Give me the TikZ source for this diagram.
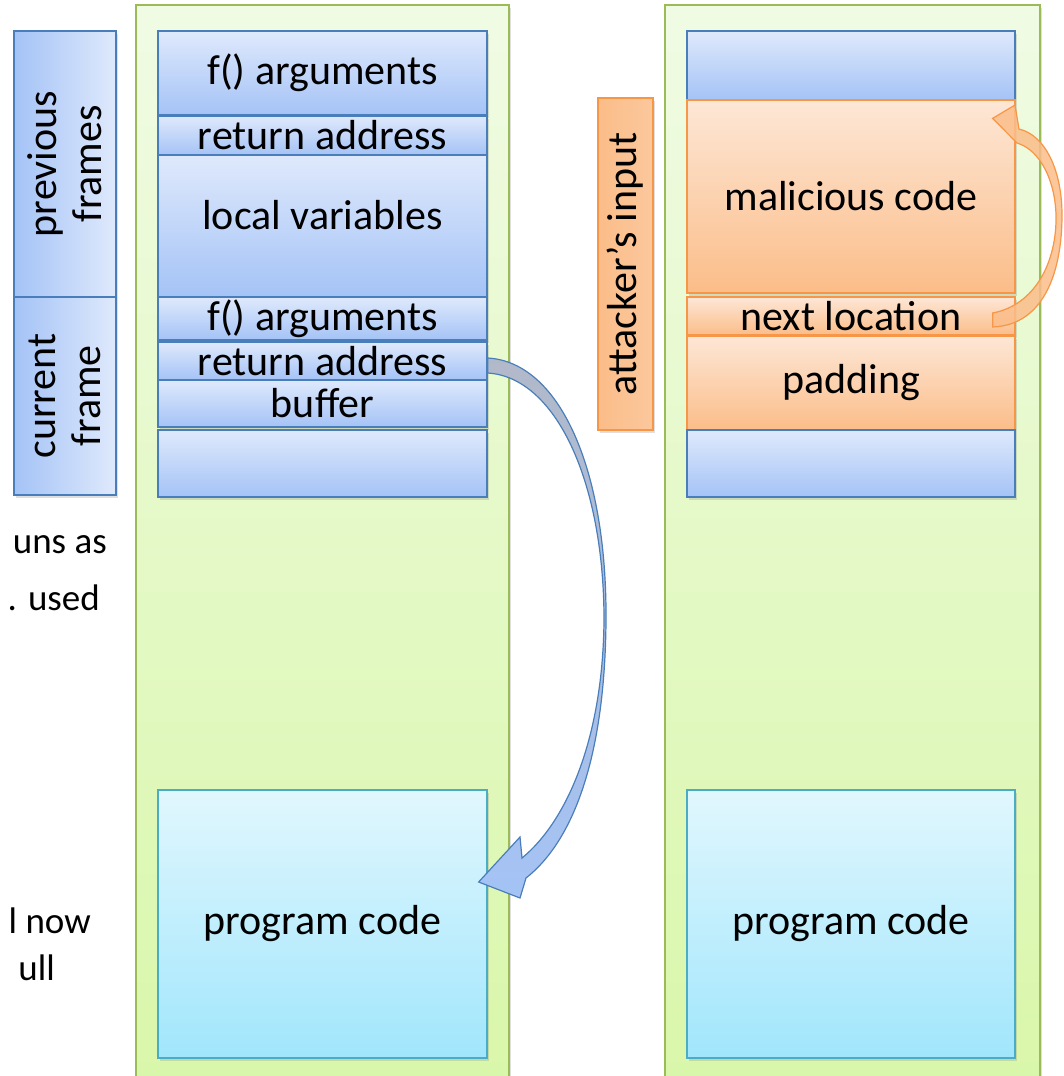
\documentclass[tikz,border=0pt]{standalone}
\usepackage{fontspec}
\setmainfont{Carlito}
\usetikzlibrary{calc,shadows}

\definecolor{cellBlueTop}{HTML}{DFE9FC}
\definecolor{cellBlueBot}{HTML}{A4C3F6}
\definecolor{cellBlueLine}{HTML}{4A7EBB}
\definecolor{cellOrTop}{HTML}{FDE7D6}
\definecolor{cellOrBot}{HTML}{FBBD89}
\definecolor{cellOrLine}{HTML}{F79646}
\definecolor{codeTop}{HTML}{E1F7FE}
\definecolor{codeBot}{HTML}{A1E6FC}
\definecolor{codeLine}{HTML}{4BACC6}
\definecolor{memTop}{HTML}{F0FBE4}
\definecolor{memBot}{HTML}{D9F7AA}
\definecolor{memLine}{HTML}{9BBB59}
\definecolor{jumpGrey}{HTML}{B1B9C9}

\newcommand{\bigtext}{\fontsize{42}{45}\selectfont}
\newcommand{\notetext}{\fontsize{37}{45}\selectfont}

\begin{document}
\begin{tikzpicture}[x=1pt, y=-1pt, font=\bigtext,
  softshadow/.style={drop shadow={opacity=0.25, shadow xshift=1.5pt, shadow yshift=-2.5pt}},
  mem/.style={draw=memLine, line width=1.3pt, top color=memTop, bottom color=memBot, softshadow},
  cell/.style={draw=cellBlueLine, line width=1.3pt, top color=cellBlueTop, bottom color=cellBlueBot,
    inner sep=0pt, minimum width=329pt, softshadow},
  evil/.style={cell, draw=cellOrLine, top color=cellOrTop, bottom color=cellOrBot},
  codebox/.style={cell, draw=codeLine, top color=codeTop, bottom color=codeBot},
  tagbox/.style={cell, rotate=90, left color=cellBlueBot, right color=cellBlueTop,
    align=center, minimum height=102pt},
  note/.style={anchor=base east, inner sep=0pt, font=\notetext}]
%% 1 unit = 1 px of the slide  |  y grows downwards
%% columns: left stack x 158..487, right stack x 687..1015

\useasboundingbox (0,0) rectangle (1063,1076);
\clip (0,0) rectangle (1063,1076);

%% ---- Memory columns ----
\node[mem, minimum width=373pt, minimum height=1080pt] (memA) at (322.5,545) {};
\node[mem, minimum width=375pt, minimum height=1080pt] (memB) at (852.5,545) {};

%% ---- Notes on the left ----
\node[note] (noteA) at (107,553) {uns as};
\node[note] (noteB) at (100,610) {. used};
\node[note] (noteC) at (91,933)  {l now};
\node[note] (noteD) at (55,980)  {ull};

%% ---- Frame tags ----
\node[tagbox, minimum width=266pt] (prevF) at (65,164) {previous\\frames};
\node[tagbox, minimum width=198pt] (currF) at (65,396) {current\\frame};

%% ---- Normal stack ----
\node[cell, minimum height=84pt]  (argA)   at (322.5,73)    {f() arguments};
\node[cell, minimum height=39pt]  (retA)   at (322.5,135.5) {return address};
\node[cell, minimum height=142pt, text depth=22pt] (locals) at (322.5,226) {local variables};
\node[cell, minimum height=43pt]  (argB)   at (322.5,318.5) {f() arguments};
\node[cell, minimum height=38pt]  (retB)   at (322.5,361)   {return address};
\node[cell, minimum height=47pt]  (buffer) at (322.5,403.5) {buffer};
\node[cell, minimum height=67pt]  (freeA)  at (322.5,463.5) {};

%% ---- Smashed stack ----
\node[tagbox, draw=cellOrLine, left color=cellOrBot, right color=cellOrBot!75!cellOrTop,
  minimum width=332pt, minimum height=55pt] (attack) at (625.5,264) {attacker's input};

\node[cell, minimum width=328pt, minimum height=69pt] (freeB) at (851,65.5) {};
\node[evil, minimum width=328pt, minimum height=193pt] (payload) at (851,196.5) {malicious code};
\node[evil, minimum width=328pt, minimum height=38pt]  (nextloc) at (851,316)   {next location};
\node[evil, minimum width=328pt, minimum height=94pt]  (padding) at (851,383)   {padding};
\node[cell, minimum width=328pt, minimum height=67pt]  (freeC)   at (851,463.5) {};

%% ---- Program code ----
\node[codebox, minimum height=268pt] (codeA) at (322.5,924) {program code};
\node[codebox, minimum width=328pt, minimum height=268pt] (codeB) at (851,924) {program code};

%% ---- Return jump (left) ----
\path (retB.east) ++(0,-3) coordinate (jmpA) ++(0,15) coordinate (jmpB);
\coordinate (jmpTip) at ($(codeA.east)+(-9,-42)$);
\draw[draw=cellBlueLine, line width=1.2pt, top color=jumpGrey, bottom color=cellBlueBot]
  (jmpA) .. controls (560,362) and (607,470) .. (606,620)
  .. controls (605,760) and (572,842) .. (526,878)
  -- (520,898) -- (jmpTip) -- (520,837) -- (522,858)
  .. controls (566,822) and (603,740) .. (604,620)
  .. controls (604,480) and (555,377) .. (jmpB) -- cycle;

%% ---- Hijacked jump (right) ----
\path (nextloc.east) ++(-23,-3) coordinate (hopA) ++(0,14) coordinate (hopB);
\coordinate (hopTip) at ($(payload.north east)+(-23,19)$);
\draw[draw=cellOrLine, line width=1.2pt, fill=cellOrBot, fill opacity=0.85]
  (hopB) .. controls (1045,325) and (1062,270) .. (1062,215)
  .. controls (1062,170) and (1045,135) .. (1019,129)
  -- (1015,105) -- (hopTip) -- (1017,143)
  .. controls (1040,150) and (1055,180) .. (1056,215)
  .. controls (1057,262) and (1035,305) .. (hopA) -- cycle;
\end{tikzpicture}
\end{document}
